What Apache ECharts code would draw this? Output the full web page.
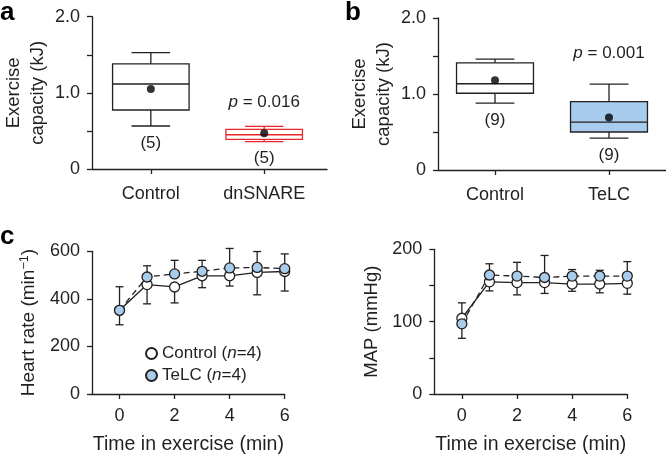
<!DOCTYPE html>
<html>
<head>
<meta charset="utf-8">
<script src="https://cdn.jsdelivr.net/npm/echarts@6/dist/echarts.min.js"></script>
<style>html,body{margin:0;padding:0;background:#fff}#c{width:666px;height:456px}</style>
</head>
<body>
<div id="c"></div>
<script>
// ---------- data ----------
const catsA = ['Control', 'dnSNARE'];
// [min, Q1, median, Q3, max]
const boxA = [[0.565, 0.775, 1.116, 1.38, 1.527], [0.36, 0.39, 0.45, 0.52, 0.56]];
const meanA = [1.05, 0.47];
const nA = ['(5)', '(5)'];
const pA = ['', '0.016'];

const catsB = ['Control', 'TeLC'];
const boxB = [[0.88, 1.01, 1.135, 1.41, 1.46], [0.42, 0.50, 0.63, 0.90, 1.13]];
const meanB = [1.18, 0.69];
const nB = ['(9)', '(9)'];
const pB = ['', '0.001'];

const time = [0, 1, 2, 3, 4, 5, 6];
const hrCtrl = [352, 460, 450, 497, 497, 511, 515];
const hrTelc = [352, 492, 505, 516, 530, 532, 527];
const hrCtrlLow = [291, 379, 383, 447, 454, 417, 433];
const hrTelcHigh = [451, 539, 562, 562, 612, 599, 589];

const mapCtrl = [104.7, 155, 154, 154, 152, 152, 153];
const mapTelc = [97, 164.5, 163, 161, 163, 163, 163];
const mapCtrlLow = [77, 142.5, 137, 139, 142, 139.8, 138];
const mapTelcHigh = [126, 180, 182, 191.5, 172, 171, 183];

const timeTicks = [0, 2, 4, 6];

// ---------- styles ----------
const INK = '#231f20';
const BLUE = '#a8cdec';
const RED = '#e8252b';
const FONT = "'Liberation Sans', Arial, Helvetica, sans-serif";
const strokeA = [INK, RED];
const fillA = ['#ffffff', '#ffffff'];
const strokeB = [INK, INK];
const fillB = ['#ffffff', BLUE];

const chart = echarts.init(document.getElementById('c'), null, {renderer: 'canvas'});

function boxRenderer(boxes, strokes, fills, ns, ps, pGap) {
  return function (params, api) {
    const i = params.dataIndex;
    const x = api.value(0);
    const b = boxes[i];
    const unit = api.size([1, 0])[0];
    const bw = unit * 0.675, cw = unit * 0.34;
    const pMin = api.coord([x, b[0]]), pQ1 = api.coord([x, b[1]]), pMd = api.coord([x, b[2]]);
    const pQ3 = api.coord([x, b[3]]), pMax = api.coord([x, b[4]]);
    const cx = pMd[0];
    const st = {stroke: strokes[i], lineWidth: 1.3, fill: null};
    const children = [
      {type: 'line', shape: {x1: cx, y1: pQ3[1], x2: cx, y2: pMax[1]}, style: st},
      {type: 'line', shape: {x1: cx, y1: pQ1[1], x2: cx, y2: pMin[1]}, style: st},
      {type: 'line', shape: {x1: cx - cw / 2, y1: pMax[1], x2: cx + cw / 2, y2: pMax[1]}, style: st},
      {type: 'line', shape: {x1: cx - cw / 2, y1: pMin[1], x2: cx + cw / 2, y2: pMin[1]}, style: st},
      {type: 'rect', shape: {x: cx - bw / 2, y: pQ3[1], width: bw, height: pQ1[1] - pQ3[1]},
        style: {stroke: strokes[i], lineWidth: 1.3, fill: fills[i]}},
      {type: 'line', shape: {x1: cx - bw / 2, y1: pMd[1], x2: cx + bw / 2, y2: pMd[1]}, style: st},
      {type: 'text', style: {x: cx, y: pMin[1] + 17, text: ns[i], fill: INK, font: '17px ' + FONT,
        align: 'center', verticalAlign: 'middle'}}
    ];
    if (ps[i]) {
      children.push({type: 'text', style: {x: cx, y: pMax[1] - pGap,
        text: '{i|p} = ' + ps[i], fill: INK, font: '17px ' + FONT, align: 'center', verticalAlign: 'middle',
        rich: {i: {fontStyle: 'italic', fontSize: 17, fontFamily: FONT, fill: INK}}}});
    }
    return {type: 'group', children: children};
  };
}

function errRenderer(params, api) {
  const p1 = api.coord([api.value(0), api.value(1)]);
  const p2 = api.coord([api.value(0), api.value(2)]);
  const st = {stroke: INK, lineWidth: 1.3};
  return {type: 'group', children: [
    {type: 'line', shape: {x1: p1[0], y1: p1[1], x2: p2[0], y2: p2[1]}, style: st},
    {type: 'line', shape: {x1: p2[0] - 4, y1: p2[1], x2: p2[0] + 4, y2: p2[1]}, style: st}
  ]};
}

const axisLine = {show: true, onZero: false, lineStyle: {color: INK, width: 1.3}};
const axisTick = {show: true, length: 5, lineStyle: {color: INK, width: 1.3}};
const lbl = {color: INK, fontSize: 18, fontFamily: FONT};

function capFmt(v) { return v === 0 ? '0' : (Math.abs(v % 1) < 1e-9 ? v.toFixed(1) : ''); }

const capName = 'Exercise\ncapacity (kJ)';
const nameStyle = {color: INK, fontSize: 18.5, fontFamily: FONT, lineHeight: 24};
const timeNameStyle = {color: INK, fontSize: 19.5, fontFamily: FONT};

const option = {
  animation: false,
  backgroundColor: '#fff',
  textStyle: {fontFamily: FONT},
  grid: [
    {left: 92, top: 16.7, width: 235, height: 152.3},
    {left: 438, top: 18, width: 228, height: 152},
    {left: 92, top: 251.3, width: 192.7, height: 147},
    {left: 434.3, top: 249.3, width: 193, height: 148.4}
  ],
  xAxis: [
    {gridIndex: 0, type: 'value', min: 0.481, max: 2.554, splitLine: {show: false}, axisLine, axisTick: Object.assign({customValues: [1, 2]}, axisTick),
      axisLabel: Object.assign({customValues: [1, 2], margin: 16, formatter: v => catsA[Math.round(v) - 1]}, lbl)},
    {gridIndex: 1, type: 'value', min: 0.5, max: 2.5, splitLine: {show: false}, axisLine, axisTick: Object.assign({customValues: [1, 2]}, axisTick),
      axisLabel: Object.assign({customValues: [1, 2], margin: 16, formatter: v => catsB[Math.round(v) - 1]}, lbl)},
    {gridIndex: 2, type: 'value', min: -1, max: 6, splitLine: {show: false}, axisLine, axisTick: Object.assign({customValues: timeTicks}, axisTick),
      axisLabel: Object.assign({customValues: timeTicks, margin: 13}, lbl),
      name: 'Time in exercise (min)', nameLocation: 'middle', nameGap: 41, nameTextStyle: timeNameStyle},
    {gridIndex: 3, type: 'value', min: -1, max: 6, splitLine: {show: false}, axisLine, axisTick: Object.assign({customValues: timeTicks}, axisTick),
      axisLabel: Object.assign({customValues: timeTicks, margin: 13}, lbl),
      name: 'Time in exercise (min)', nameLocation: 'middle', nameGap: 41, nameTextStyle: timeNameStyle}
  ],
  yAxis: [
    {gridIndex: 0, type: 'value', min: 0, max: 2, interval: 0.5, splitLine: {show: false}, axisLine, axisTick,
      axisLabel: Object.assign({formatter: capFmt, margin: 12}, lbl),
      name: capName, nameLocation: 'middle', nameGap: 42, nameTextStyle: nameStyle},
    {gridIndex: 1, type: 'value', min: 0, max: 2, interval: 0.5, splitLine: {show: false}, axisLine, axisTick,
      axisLabel: Object.assign({formatter: capFmt, margin: 12}, lbl),
      name: capName, nameLocation: 'middle', nameGap: 42, nameTextStyle: nameStyle},
    {gridIndex: 2, type: 'value', min: 0, max: 600, interval: 200, splitLine: {show: false}, axisLine, axisTick,
      axisLabel: Object.assign({margin: 12}, lbl),
      name: '{a|Heart rate (min}{s|−1}{a|)}', nameLocation: 'middle', nameGap: 52,
      nameTextStyle: {color: INK, fontFamily: FONT, rich: {
        a: {fontSize: 19, fontFamily: FONT, color: INK},
        s: {fontSize: 12.5, fontFamily: FONT, color: INK, padding: [0, 0, 9, 0]}}}},
    {gridIndex: 3, type: 'value', min: 0, max: 200, interval: 50, splitLine: {show: false}, axisLine, axisTick,
      axisLabel: Object.assign({margin: 12, formatter: v => (v % 100 === 0 ? String(v) : '')}, lbl),
      name: 'MAP (mmHg)', nameLocation: 'middle', nameGap: 50, nameTextStyle: nameStyle}
  ],
  legend: {
    left: 140, top: 340, orient: 'vertical', itemGap: 5, itemWidth: 11, itemHeight: 11, icon: 'circle',
    data: ['Control', 'TeLC'],
    formatter: name => '{a|' + name + ' (}{i|n}{a|=4)}',
    textStyle: {color: INK, fontSize: 17, fontFamily: FONT, rich: {
      a: {fontSize: 17, fontFamily: FONT, color: INK},
      i: {fontSize: 17, fontFamily: FONT, color: INK, fontStyle: 'italic'}}}
  },
  graphic: [
    {type: 'text', left: 0, top: 0, style: {text: 'a', font: 'bold 26px ' + FONT, fill: '#000'}},
    {type: 'text', left: 345, top: 0, style: {text: 'b', font: 'bold 26px ' + FONT, fill: '#000'}},
    {type: 'text', left: 0, top: 224, style: {text: 'c', font: 'bold 26px ' + FONT, fill: '#000'}}
  ],
  series: [
    {type: 'custom', xAxisIndex: 0, yAxisIndex: 0, renderItem: boxRenderer(boxA, strokeA, fillA, nA, pA, 24),
      data: catsA.map((c, i) => [i + 1, boxA[i][2]]), z: 2},
    {type: 'scatter', xAxisIndex: 0, yAxisIndex: 0, symbolSize: 8, itemStyle: {color: '#000'},
      data: meanA.map((m, i) => [i + 1, m]), z: 3},
    {type: 'custom', xAxisIndex: 1, yAxisIndex: 1, renderItem: boxRenderer(boxB, strokeB, fillB, nB, pB, 31),
      data: catsB.map((c, i) => [i + 1, boxB[i][2]]), z: 2},
    {type: 'scatter', xAxisIndex: 1, yAxisIndex: 1, symbolSize: 8, itemStyle: {color: '#000'},
      data: meanB.map((m, i) => [i + 1, m]), z: 3},

    {type: 'custom', xAxisIndex: 2, yAxisIndex: 2, renderItem: errRenderer, z: 1,
      data: time.map((t, i) => [t, hrCtrl[i], hrCtrlLow[i]])},
    {type: 'custom', xAxisIndex: 2, yAxisIndex: 2, renderItem: errRenderer, z: 1,
      data: time.map((t, i) => [t, hrTelc[i], hrTelcHigh[i]])},
    {name: 'Control', type: 'line', xAxisIndex: 2, yAxisIndex: 2, z: 3, symbol: 'circle', symbolSize: 10,
      data: time.map((t, i) => [t, hrCtrl[i]]),
      lineStyle: {color: INK, width: 1.3}, itemStyle: {color: '#fff', borderColor: INK, borderWidth: 1.3}},
    {name: 'TeLC', type: 'line', xAxisIndex: 2, yAxisIndex: 2, z: 4, symbol: 'circle', symbolSize: 10,
      data: time.map((t, i) => [t, hrTelc[i]]),
      lineStyle: {color: INK, width: 1.3, type: [6, 4]}, itemStyle: {color: BLUE, borderColor: INK, borderWidth: 1.3}},

    {type: 'custom', xAxisIndex: 3, yAxisIndex: 3, renderItem: errRenderer, z: 1,
      data: time.map((t, i) => [t, mapCtrl[i], mapCtrlLow[i]])},
    {type: 'custom', xAxisIndex: 3, yAxisIndex: 3, renderItem: errRenderer, z: 1,
      data: time.map((t, i) => [t, mapTelc[i], mapTelcHigh[i]])},
    {name: 'Control', type: 'line', xAxisIndex: 3, yAxisIndex: 3, z: 3, symbol: 'circle', symbolSize: 10,
      data: time.map((t, i) => [t, mapCtrl[i]]),
      lineStyle: {color: INK, width: 1.3}, itemStyle: {color: '#fff', borderColor: INK, borderWidth: 1.3}},
    {name: 'TeLC', type: 'line', xAxisIndex: 3, yAxisIndex: 3, z: 4, symbol: 'circle', symbolSize: 10,
      data: time.map((t, i) => [t, mapTelc[i]]),
      lineStyle: {color: INK, width: 1.3, type: [6, 4]}, itemStyle: {color: BLUE, borderColor: INK, borderWidth: 1.3}}
  ]
};
chart.setOption(option);
</script>
</body>
</html>
